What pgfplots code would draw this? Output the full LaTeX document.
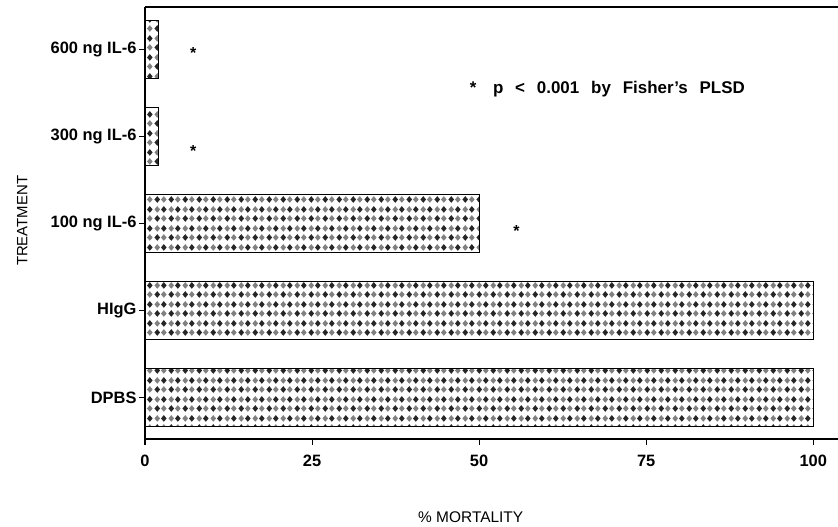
\documentclass[border=0pt]{standalone}
\usepackage{fontspec}
\setmainfont{Liberation Sans}
\usepackage{pgfplots}
\pgfplotsset{compat=1.18}
\usetikzlibrary{patterns}

\pgfdeclarepatterninherentlycolored{diamondcheck}{\pgfpointorigin}{\pgfqpoint{14bp}{19bp}}{\pgfqpoint{14bp}{19bp}}{%
  \pgfsetfillcolor{black!85}%
  \pgfpathmoveto{\pgfqpoint{0.5bp}{4.75bp}}\pgfpathlineto{\pgfqpoint{3.5bp}{8.25bp}}\pgfpathlineto{\pgfqpoint{6.5bp}{4.75bp}}\pgfpathlineto{\pgfqpoint{3.5bp}{1.25bp}}\pgfpathclose
  \pgfpathmoveto{\pgfqpoint{7.5bp}{14.25bp}}\pgfpathlineto{\pgfqpoint{10.5bp}{17.75bp}}\pgfpathlineto{\pgfqpoint{13.5bp}{14.25bp}}\pgfpathlineto{\pgfqpoint{10.5bp}{10.75bp}}\pgfpathclose
  \pgfusepath{fill}%
  \pgfsetfillcolor{black!50}%
  \pgfpathmoveto{\pgfqpoint{7.5bp}{4.75bp}}\pgfpathlineto{\pgfqpoint{10.5bp}{8.25bp}}\pgfpathlineto{\pgfqpoint{13.5bp}{4.75bp}}\pgfpathlineto{\pgfqpoint{10.5bp}{1.25bp}}\pgfpathclose
  \pgfpathmoveto{\pgfqpoint{0.5bp}{14.25bp}}\pgfpathlineto{\pgfqpoint{3.5bp}{17.75bp}}\pgfpathlineto{\pgfqpoint{6.5bp}{14.25bp}}\pgfpathlineto{\pgfqpoint{3.5bp}{10.75bp}}\pgfpathclose
  \pgfusepath{fill}%
}

\begin{document}
\begin{tikzpicture}
\begin{axis}[
  at={(145bp,88bp)}, anchor=south west,
  scale only axis, width=693bp, height=432bp,
  xbar, bar width=58bp,
  xmin=0, xmax=103.7, ymin=-0.477, ymax=4.489,
  axis x line=box, axis y line*=left,
  xtick pos=bottom,
  xtick={0,25,50,75,100},
  ytick={0,1,2,3,4},
  yticklabels={DPBS,HIgG,100 ng IL-6,300 ng IL-6,600 ng IL-6},
  tick align=outside, major tick length=6bp,
  axis line style={line width=1.1bp},
  tick style={line width=1.1bp, black},
  ticklabel style={font=\bfseries\fontsize{16.5}{16.5}\selectfont},
  xticklabel style={yshift=-7bp},
  yticklabel style={xshift=1bp},
  /pgf/number format/assume math mode=true,
  xlabel={\% MORTALITY},
  xlabel style={at={(axis description cs:0.470,-0.181)}, anchor=center, font=\fontsize{15.5}{15.5}\selectfont},
  ylabel={TREATMENT},
  ylabel style={at={(axis description cs:-0.177,0.505)}, anchor=center, rotate=0, font=\fontsize{15}{15}\selectfont},
  clip=false,
]
\addplot[draw=black, line width=1.1bp, pattern=diamondcheck] coordinates {(100,0) (100,1) (50,2) (2,3) (2,4)};
\node[font=\bfseries\fontsize{16}{16}\selectfont, yshift=-3.5bp] at (axis cs:7.2,4.0) {*};
\node[font=\bfseries\fontsize{16}{16}\selectfont, yshift=-3.5bp] at (axis cs:7.2,2.87) {*};
\node[font=\bfseries\fontsize{16}{16}\selectfont, yshift=-3.5bp] at (axis cs:55.6,1.95) {*};
\node[font=\bfseries\fontsize{17}{17}\selectfont, anchor=west, inner sep=0pt] at (axis cs:48.6,3.54) {*\hspace{0.97em}p\hspace{0.7em}<\hspace{0.7em}0.001\hspace{0.7em}by\hspace{0.7em}Fisher's\hspace{0.7em}PLSD};
\end{axis}
\pgfresetboundingbox
\path[use as bounding box] (0,0) rectangle (838bp,527bp);
\end{tikzpicture}
\end{document}
